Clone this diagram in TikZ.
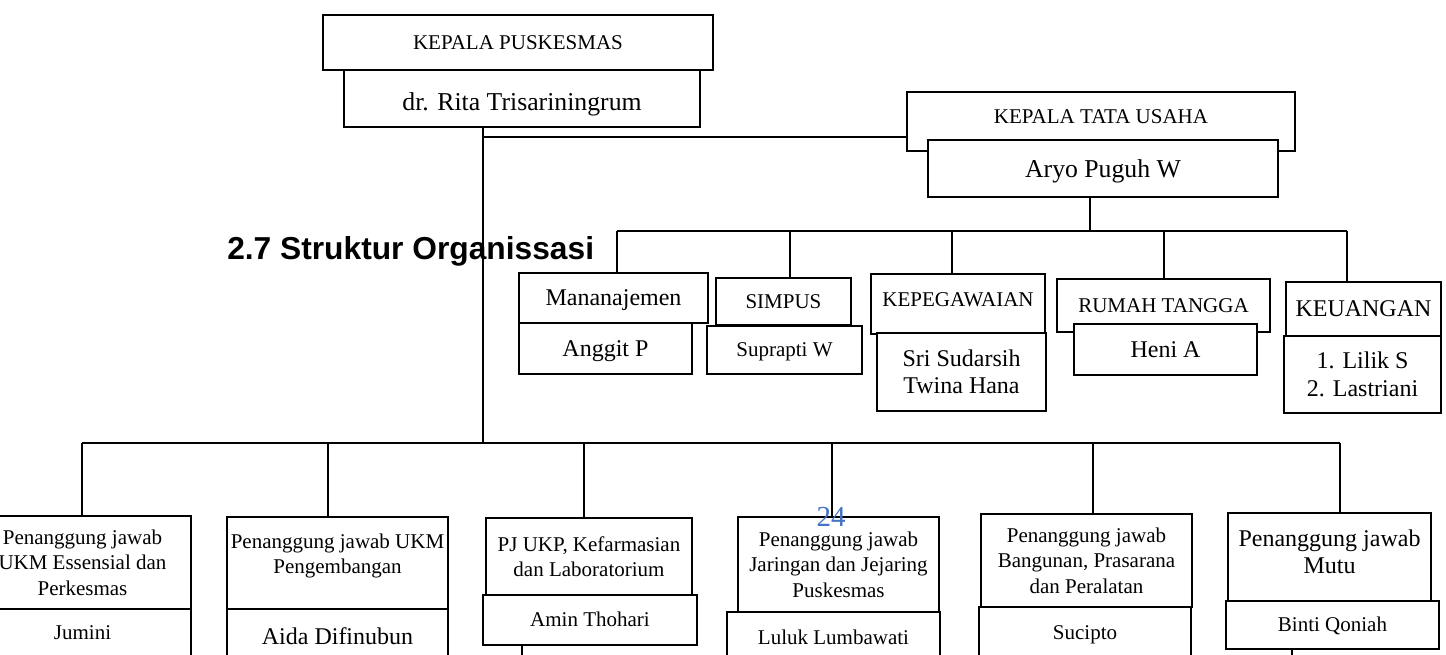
\documentclass[tikz,border=0pt]{standalone}
\usepackage{fontspec}
\setmainfont{Liberation Serif}
\newfontfamily\sansb{Liberation Sans}
\newcommand\fa{\fontsize{15.75pt}{19pt}\selectfont}
\newcommand\fb{\fontsize{18pt}{20.5pt}\selectfont}
\newcommand\fc{\fontsize{19.3pt}{23pt}\selectfont}
\newcommand\titlefont{\sansb\bfseries\fontsize{23.8pt}{28pt}\selectfont}
\definecolor{pageblue}{HTML}{4472C4}
\tikzset{
  box/.style={draw, fill=white, line width=1.4pt, inner sep=0pt, align=center},
  conn/.style={line width=1.1pt},
  fa/.style={font=\fa, text height=10.4pt, text depth=0pt},
  fam/.style={font=\fa},
  fb/.style={font=\fb, text height=11.9pt, text depth=0pt},
  fbm/.style={font=\fb},
  fc/.style={font=\fc, text height=12.8pt, text depth=0pt},
}
\newcommand\rbox[7][]{\node[box,#1,minimum width={((#5)-(#3))*0.75pt},minimum height={((#6)-(#4))*0.75pt}] (#2) at ({((#3)+(#5))/2},{((#4)+(#6))/2}) {#7};}
\begin{document}
\begin{tikzpicture}[x=0.75pt,y=-0.75pt]
\useasboundingbox (0,0) rectangle (1446,655);
\clip (0,0) rectangle (1446,655);
% top
\rbox[fa]{kp}{323}{15}{713}{70}{KEPALA PUSKESMAS}
\rbox[fc,text height=18pt]{rita}{344}{70}{700}{127}{dr. Rita Trisariningrum}
\rbox[fa,text depth=7.5pt]{ktu}{907}{92}{1295}{151}{KEPALA TATA USAHA}
\rbox[fc]{aryo}{928}{140}{1278}{197}{Aryo Puguh W}
% middle
\rbox[fb]{man}{519}{273}{708}{323}{Mananajemen}
\rbox[fa]{simpus}{716}{278}{851}{325}{SIMPUS}
\rbox[fa,text depth=6.8pt]{kepeg}{871}{274}{1045}{334}{KEPEGAWAIAN}
\rbox[fa]{rt}{1057}{279}{1270}{332}{RUMAH TANGGA}
\rbox[fb]{keu}{1286}{282}{1441}{336}{KEUANGAN}
\rbox[fb]{anggit}{519}{323}{692}{374}{Anggit P}
\rbox[fa]{suprapti}{707}{326}{862}{374}{Suprapti W}
\rbox[fbm]{sri}{877}{333}{1046}{411}{Sri Sudarsih\\Twina Hana}
\rbox[fb]{heni}{1074}{324}{1257}{375}{Heni A}
\rbox[fbm]{lilik}{1284}{336}{1441}{413}{1. Lilik S\\2. Lastriani}
% bottom
\rbox[fam]{b1}{-26}{516}{191}{609}{Penanggung jawab\\UKM Essensial dan\\Perkesmas}
\rbox[fa]{jumini}{-26}{609}{191}{657}{Jumini}
\rbox[fam]{b2}{227}{517}{448}{609}{}
\node[fam,align=center,inner sep=0pt] (b2t) at (337.5,556) {Penanggung jawab UKM\\Pengembangan};
\rbox[fb]{aida}{227}{609}{448}{665}{Aida Difinubun}
\rbox[fam]{b3}{486}{518}{692}{595}{PJ UKP, Kefarmasian\\dan Laboratorium}
\rbox[fa]{amin}{483}{595}{697}{645}{Amin Thohari}
\rbox[fam]{b4}{738}{517}{939}{612}{Penanggung jawab\\Jaringan dan Jejaring\\Puskesmas}
\rbox[fa]{luluk}{727}{612}{940}{664}{Luluk Lumbawati}
\rbox[fam]{b5}{981}{514}{1192}{607}{Penanggung jawab\\Bangunan, Prasarana\\dan Peralatan}
\rbox[fa]{sucipto}{979}{607}{1191}{659}{Sucipto}
\rbox[fbm]{b6}{1228}{513}{1431}{601}{}
\node[fbm,align=center,inner sep=0pt] (b6t) at (1329.5,552) {Penanggung jawab\\Mutu};
\rbox[fa]{binti}{1226}{601}{1439}{649}{Binti Qoniah}
% connectors
\coordinate (j1) at (483,137);
\coordinate (j2) at (483,443);
\draw[conn] (rita.south -| j1) -- (j2);
\draw[conn] (j1) -- (ktu.west |- j1);
\coordinate (m0) at (1090,231);
\draw[conn] (aryo.south -| m0) -- (m0);
\coordinate (mL) at (617,231);
\coordinate (mR) at (1347,231);
\coordinate (m2) at (790,231);
\coordinate (m3) at (952,231);
\coordinate (m4) at (1164,231);
\draw[conn] (mL) -- (mR);
\draw[conn] (mL) -- (mL |- man.north);
\draw[conn] (m2) -- (m2 |- simpus.north);
\draw[conn] (m3) -- (m3 |- kepeg.north);
\draw[conn] (m4) -- (m4 |- rt.north);
\draw[conn] (mR) -- (mR |- keu.north);
\coordinate (bL) at (82,443);
\coordinate (bR) at (1340,443);
\coordinate (d2) at (328,443);
\coordinate (d3) at (584,443);
\coordinate (d4) at (832,443);
\coordinate (d5) at (1093,443);
\draw[conn] (bL) -- (bR);
\draw[conn] (bL) -- (bL |- b1.north);
\draw[conn] (d2) -- (d2 |- b2.north);
\draw[conn] (d3) -- (d3 |- b3.north);
\draw[conn] (d4) -- (d4 |- b4.north);
\draw[conn] (d5) -- (d5 |- b5.north);
\draw[conn] (bR) -- (bR |- b6.north);
\coordinate (a1) at (522,662);
\coordinate (q1) at (1292,662);
\draw[conn] (amin.south -| a1) -- (a1);
\draw[conn] (binti.south -| q1) -- (q1);
% texts
\node[font=\titlefont, anchor=base west, inner sep=0pt] (title) at (227,260) {2.7 Struktur Organissasi};
\node[font=\fontsize{21.75pt}{24pt}\selectfont, text=pageblue, anchor=base, inner sep=0pt] (pg) at (831,527) {24};
\end{tikzpicture}
\end{document}
